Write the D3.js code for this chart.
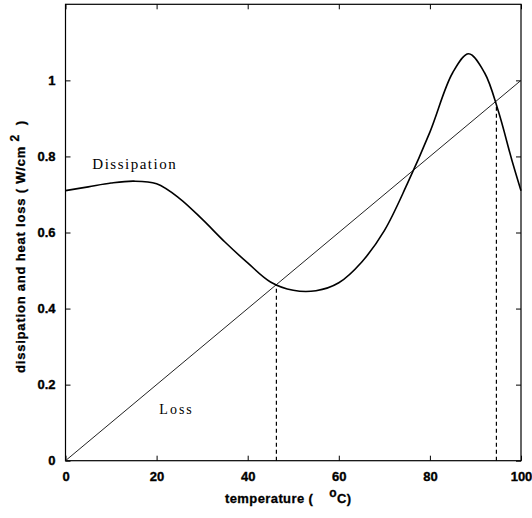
<!DOCTYPE html>
<html>
<head>
<meta charset="utf-8">
<script src="https://cdn.jsdelivr.net/npm/d3@7"></script>
<style>
  html, body { margin: 0; padding: 0; background: #fff; }
  svg { display: block; }
  text { white-space: pre; }
</style>
</head>
<body>
<svg id="chart" width="532" height="518"></svg>
<script>
// ---- data ----
const temperature = [0, 5, 10, 15, 20, 25, 30, 35, 40, 45, 50, 55, 60, 65, 70, 75, 80, 85, 88.5, 92, 95, 98, 100];
const dissipation = [0.71, 0.72, 0.73, 0.735, 0.728, 0.69, 0.635, 0.575, 0.52, 0.47, 0.448, 0.447, 0.468, 0.522, 0.605, 0.727, 0.864, 1.02, 1.07, 1.02, 0.92, 0.79, 0.71];
const lossT = [0, 100];
const lossV = [0, 1];
const equilibriumT = [46.3, 94.6];
const equilibriumV = [0.462, 0.936];
const xTicks = [0, 20, 40, 60, 80, 100];
const yTicks = [0, 0.2, 0.4, 0.6, 0.8, 1];

// ---- layout ----
const svg = d3.select("#chart");
const L = 65.5, R = 521, T = 4.3, B = 460.7;
const x = d3.scaleLinear().domain([0, 100]).range([L, R]);
const y = d3.scaleLinear().domain([0, 1.2]).range([B, T]);

const tickFont = "bold 13px 'Liberation Sans', Arial, sans-serif";

// frame
svg.append("rect").attr("x", L).attr("y", T).attr("width", R - L).attr("height", B - T)
  .attr("fill", "none").attr("stroke", "#000").attr("stroke-width", 1.2);

// axes with inward ticks
const gx = svg.append("g").attr("transform", `translate(0,${B})`)
  .call(d3.axisBottom(x).tickValues(xTicks).tickSizeInner(-5).tickSizeOuter(0).tickPadding(11).tickFormat(d3.format("d")));
const gxTop = svg.append("g").attr("transform", `translate(0,${T})`)
  .call(d3.axisTop(x).tickValues(xTicks).tickSizeInner(-5).tickSizeOuter(0).tickFormat(""));
const gy = svg.append("g").attr("transform", `translate(${L},0)`)
  .call(d3.axisLeft(y).tickValues(yTicks).tickSizeInner(-5).tickSizeOuter(0).tickPadding(10).tickFormat(d => d === 0 ? "0" : d === 1 ? "1" : d3.format(".1f")(d)));
const gyR = svg.append("g").attr("transform", `translate(${R},0)`)
  .call(d3.axisRight(y).tickValues(yTicks).tickSizeInner(-5).tickSizeOuter(0).tickFormat(""));

[gx, gxTop, gy, gyR].forEach(g => {
  g.select(".domain").remove();
  g.selectAll("line").attr("stroke", "#000");
  g.selectAll("text").style("font", tickFont).attr("fill", "#000")
    .attr("stroke", "#000").attr("stroke-width", 0.35);
});

// loss line
const line = d3.line().x(d => x(d[0])).y(d => y(d[1]));
svg.append("path")
  .datum(lossT.map((t, i) => [t, lossV[i]]))
  .attr("d", line)
  .attr("fill", "none").attr("stroke", "#222").attr("stroke-width", 1);

// dissipation curve
const curve = d3.line().x(d => x(d[0])).y(d => y(d[1])).curve(d3.curveCatmullRom.alpha(0.5));
svg.append("path")
  .datum(temperature.map((t, i) => [t, dissipation[i]]))
  .attr("d", curve)
  .attr("fill", "none").attr("stroke", "#000").attr("stroke-width", 1.6);

// dashed equilibrium lines
equilibriumT.forEach((t, i) => {
  svg.append("line")
    .attr("x1", x(t)).attr("x2", x(t))
    .attr("y1", y(0)).attr("y2", y(equilibriumV[i]))
    .attr("stroke", "#000").attr("stroke-width", 1.2)
    .attr("stroke-dasharray", "4,3");
});

// serif labels
svg.append("text").attr("x", x(5.9)).attr("y", y(0.767))
  .style("font", "15px 'Liberation Serif', 'Times New Roman', serif")
  .style("letter-spacing", "1.5px")
  .text("Dissipation");
svg.append("text").attr("x", x(20.6)).attr("y", y(0.122))
  .style("font", "14px 'Liberation Serif', 'Times New Roman', serif")
  .style("letter-spacing", "2px")
  .text("Loss");

// axis titles
const xl = svg.append("text").attr("x", 225).attr("y", 502.5)
  .style("font", "bold 13px 'Liberation Sans', Arial, sans-serif")
  .style("letter-spacing", "0.4px")
  .attr("stroke", "#000").attr("stroke-width", 0.3);
xl.append("tspan").text("temperature (    ");
xl.append("tspan").attr("dy", -6).style("font-size", "12px").text("o");
xl.append("tspan").attr("dy", 6).text("C)");

const yl = svg.append("text")
  .attr("transform", `translate(25,373) rotate(-90)`)
  .style("font", "bold 13px 'Liberation Sans', Arial, sans-serif")
  .style("letter-spacing", "0.8px")
  .attr("stroke", "#000").attr("stroke-width", 0.3);
yl.append("tspan").text("dissipation and heat loss ( W/cm ");
yl.append("tspan").attr("dy", -6).style("font-size", "12px").text("2");
yl.append("tspan").attr("dy", 6).text("  )");
</script>
</body>
</html>
